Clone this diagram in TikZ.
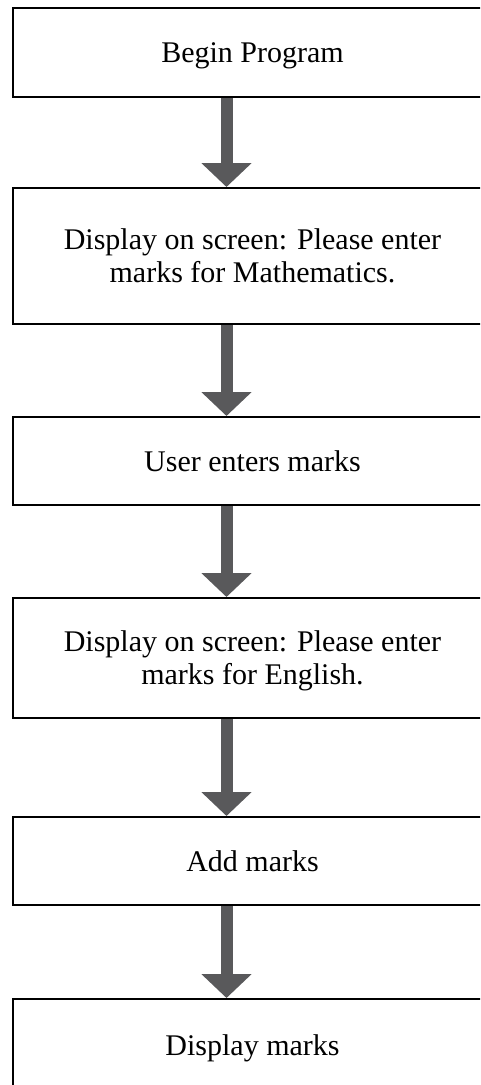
\documentclass[tikz,border=0pt]{standalone}
\usepackage{fontspec}
\setmainfont{Liberation Serif}
\usetikzlibrary{arrows.meta,calc}
\definecolor{arrowgray}{RGB}{89,89,91}
\tikzset{
  flowbox/.style={draw=black, line width=2.2pt, fill=white, rectangle,
    minimum width=479pt, inner sep=0pt, outer sep=0pt, anchor=north west,
    align=center, text depth=0pt, font=\fontsize{30}{33}\selectfont},
  flowarrow/.style={draw=arrowgray, line width=12pt,
    -{Triangle[width=49pt,length=24pt]}, arrowgray}
}
\begin{document}
\begin{tikzpicture}[x=1pt,y=-1pt]
\useasboundingbox (0,0) rectangle (480,1085);
\clip (0,0) rectangle (480,1085);
\node[flowbox, minimum height=89pt] (b1) at (13,8) {Begin Program};
\node[flowbox, minimum height=136pt] (b2) at (13,188) {Display on screen: Please enter\\marks for Mathematics.};
\node[flowbox, minimum height=88pt] (b3) at (13,417) {User enters marks};
\node[flowbox, minimum height=120pt] (b4) at (13,598) {Display on screen: Please enter\\marks for English.};
\node[flowbox, minimum height=88pt] (b5) at (13,817) {Add marks};
\node[flowbox, minimum height=92pt] (b6) at (13,999) {Display marks};
\foreach \a/\b in {b1/b2,b2/b3,b3/b4,b4/b5,b5/b6}{
  \draw[flowarrow] ($(\a.south)+(-26,1)$) -- ($(\b.north)+(-26,-1)$);
}
\end{tikzpicture}
\end{document}
